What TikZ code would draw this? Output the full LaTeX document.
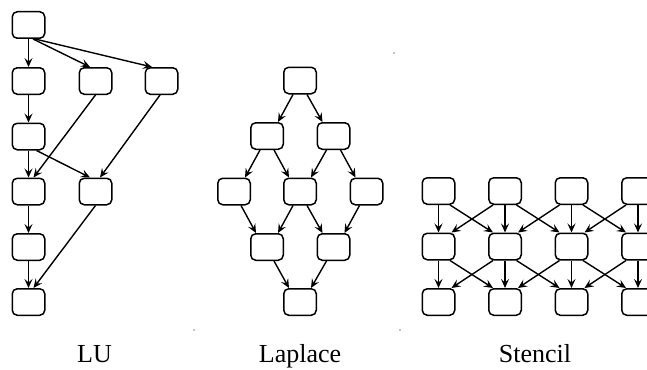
\documentclass[tikz,border=0pt]{standalone}
\usepackage{fontspec}
\setmainfont{Liberation Serif}
\usetikzlibrary{arrows.meta}
\tikzset{
  blk/.style={draw, rounded corners=5pt, minimum width=32.5pt, minimum height=26.5pt, line width=1.5pt, inner sep=0pt},
  arr/.style={-{Stealth[length=9pt,width=8pt,inset=3.5pt]}, line width=1.4pt},
  lbl/.style={anchor=base, font=\fontsize{26}{30}\selectfont},
}
\begin{document}
\begin{tikzpicture}[x=1pt,y=-1pt]
\useasboundingbox (0,0) rectangle (647,369);
\clip (0,0) rectangle (647,369);
% ---- LU ----
\node[blk] (u1) at (28.5,25) {};
\node[blk] (u2a) at (28.5,81) {};
\node[blk] (u2b) at (95.5,81) {};
\node[blk] (u2c) at (161.5,81) {};
\node[blk] (u3) at (28.5,136.5) {};
\node[blk] (u4a) at (28.5,191.5) {};
\node[blk] (u4b) at (95.5,191.5) {};
\node[blk] (u5) at (28.5,247) {};
\node[blk] (u6) at (28.5,302) {};
\draw[arr] (u1) -- (u2a);
\draw[arr] ([xshift=4.5pt]u1.south) -- ([xshift=-5.5pt]u2b.north);
\draw[arr] ([xshift=6.5pt]u1.south) -- ([xshift=-9.5pt]u2c.north);
\draw[arr] (u2a) -- (u3);
\draw[arr] (u3) -- (u4a);
\draw[arr] (u2b.south) -- ([xshift=5pt]u4a.north);
\draw[arr] ([xshift=-1.5pt]u2c.south) -- ([xshift=4.5pt]u4b.north);
\draw[arr] ([xshift=8pt]u3.south) -- ([xshift=-5.5pt]u4b.north);
\draw[arr] (u4a) -- (u5);
\draw[arr] (u5) -- (u6);
\draw[arr] (u4b.south) -- ([xshift=5pt]u6.north);
\node[lbl] (tlu) at (94.5,362) {LU};
% ---- Laplace ----
\node[blk] (p1) at (300,80.5) {};
\node[blk] (p2a) at (267,136) {};
\node[blk] (p2b) at (333.5,136) {};
\node[blk] (p3a) at (234,191.5) {};
\node[blk] (p3b) at (300,191.5) {};
\node[blk] (p3c) at (366.5,191.5) {};
\node[blk] (p4a) at (267,247) {};
\node[blk] (p4b) at (333.5,247) {};
\node[blk] (p5) at (300,302) {};
\foreach \a/\b in {p1/p2a,p2a/p3a,p2b/p3b,p3b/p4a,p3c/p4b,p4b/p5}
  \draw[arr] ([xshift=-7pt]\a.south) -- ([xshift=11pt]\b.north);
\foreach \a/\b in {p1/p2b,p2a/p3b,p2b/p3c,p3a/p4a,p3b/p4b,p4a/p5}
  \draw[arr] ([xshift=7pt]\a.south) -- ([xshift=-11pt]\b.north);
\node[lbl] (tlp) at (300,362) {Laplace};
% ---- Stencil ----
\foreach \c [count=\i] in {438.5,505,571.5,638}
  \foreach \r/\y in {1/191,2/246.5,3/302}
    \node[blk] (s\r\i) at (\c,\y) {};
\foreach \r/\n in {1/2,2/3} {
  \foreach \i in {1,...,4}
    \draw[arr] (s\r\i) -- (s\n\i);
  \foreach \i/\j in {1/2,2/3,3/4} {
    \draw[arr] ([xshift=11.5pt]s\r\i.south) -- ([xshift=-12pt]s\n\j.north);
    \draw[arr] ([xshift=-12pt]s\r\j.south) -- ([xshift=13pt]s\n\i.north);
  }
}
\node[lbl] (tst) at (535,362) {Stencil};
% ---- stray dots ----
\fill (394,53) circle (0.7pt);
\fill (194,330) circle (0.7pt);
\fill (400,330) circle (0.7pt);
\end{tikzpicture}
\end{document}
